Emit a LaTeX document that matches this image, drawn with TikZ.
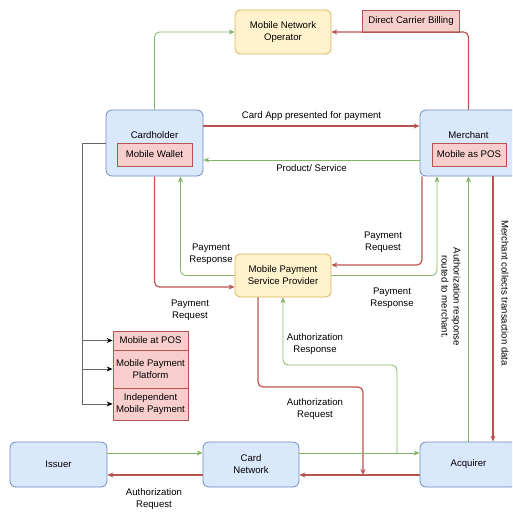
\documentclass[tikz,border=0pt]{standalone}
\usepackage{fontspec}
\setmainfont{Liberation Sans}
\usetikzlibrary{arrows.meta}
\definecolor{BoxBlue}{HTML}{DAE8FC}
\definecolor{LineBlue}{HTML}{6C8EBF}
\definecolor{BoxYellow}{HTML}{FFF2CC}
\definecolor{LineYellow}{HTML}{D6B656}
\definecolor{BoxPink}{HTML}{F8CECC}
\definecolor{LineRed}{HTML}{B85450}
\definecolor{LineGreen}{HTML}{82B366}
\tikzset{
    >={Stealth[length=6pt,width=5pt]},
    Box/.style={line width=0.8pt, align=center, inner sep=1pt},
    BlueBox/.style={Box, draw=LineBlue, fill=BoxBlue, rounded corners=6pt},
    YellowBox/.style={Box, draw=LineYellow, fill=BoxYellow, rounded corners=5pt},
    PinkBox/.style={Box, draw=LineRed, fill=BoxPink},
    ReqLine/.style={->, draw=LineRed, line width=1.2pt, rounded corners=5pt},
    ResLine/.style={->, draw=LineGreen, line width=0.8pt, rounded corners=5pt},
    BusLine/.style={-{Stealth[length=6pt,width=5pt,black]}, draw=black!60, line width=0.8pt},
}

\begin{document}
\begin{tikzpicture}[x=1pt, y=-1pt, font=\fontsize{9.6}{12}\selectfont]
    \path[use as bounding box, clip] (0,0) rectangle (512,516);
    % parties
    \node[YellowBox, minimum width=96pt, minimum height=44pt] (MNO) at (283,32) {Mobile Network\\Operator};
    \node[PinkBox, minimum width=97pt, minimum height=22pt] (DCB) at (411,21) {Direct Carrier Billing};
    \node[BlueBox, minimum width=97pt, minimum height=66pt] (Cardholder) at (154.5,143) {};
    \node (CardholderName) at (154.5,135) {Cardholder};
    \node[PinkBox, minimum width=75pt, minimum height=23pt] (Wallet) at (154.5,154.5) {Mobile Wallet};
    \node[BlueBox, minimum width=97pt, minimum height=66pt] (Merchant) at (468.5,143) {};
    \node (MerchantName) at (468.5,135) {Merchant};
    \node[PinkBox, minimum width=74pt, minimum height=23pt] (MobilePOS) at (469,154.5) {Mobile as POS};
    \node[YellowBox, minimum width=96pt, minimum height=43pt] (MPSP) at (283,275.5) {Mobile Payment\\Service Provider};
    \node[BlueBox, minimum width=97pt, minimum height=45pt] (Issuer) at (58.5,464.5) {Issuer};
    \node[BlueBox, minimum width=96pt, minimum height=45pt] (CardNet) at (251,464.5) {Card\\Network};
    \node[BlueBox, minimum width=97pt, minimum height=45pt] (Acquirer) at (468.5,464.5) {Acquirer};
    % wallet kinds
    \node[PinkBox, minimum width=75pt, minimum height=19pt] (AtPOS) at (150.5,340.5) {Mobile at POS};
    \node[PinkBox, minimum width=75pt, minimum height=38pt] (Platform) at (150.5,369) {Mobile Payment\\Platform};
    \node[PinkBox, minimum width=75pt, minimum height=32pt] (Independent) at (150.5,404) {Independent\\Mobile Payment};
    \coordinate (Trunk) at (82,0);
    \draw[BusLine] (Cardholder.west) -| (Trunk |- Independent.west) -- (Independent.west);
    \draw[BusLine] (Trunk |- AtPOS.west) -- (AtPOS.west);
    \draw[BusLine] (Trunk |- Platform.west) -- (Platform.west);
    \coordinate (AuthReqBend) at (363,387);
    \coordinate (AuthReqEnd) at (363,475);
    \coordinate (AuthResStart) at (397,453);
    \coordinate (AuthResBend) at (397,365);
    \begin{scope} % requests
        \draw[ReqLine] (Merchant.north) |- (MNO.east);
        \draw[ReqLine] ([yshift=17pt]Cardholder.east) -- ([yshift=17pt]Merchant.west)
            node[midway, above=2pt] {Card App presented for payment};
        \draw[ReqLine] (Cardholder.south) |- ([yshift=-11.5pt]MPSP.west);
        \draw[ReqLine] ([xshift=-46.5pt]Merchant.south) |- ([yshift=10.5pt]MPSP.east);
        \draw[ReqLine] ([xshift=24.5pt]Merchant.south) -- ([xshift=24.5pt]Acquirer.north);
        \draw[ReqLine] ([xshift=-25pt]MPSP.south) |- (AuthReqBend) -- (AuthReqEnd);
        \draw[ReqLine] ([yshift=-10.5pt]CardNet.west) -- ([yshift=-10.5pt]Issuer.east);
        \draw[ReqLine] ([yshift=-10.5pt]Acquirer.west) -- ([yshift=-10.5pt]CardNet.east);
    \end{scope}
    \begin{scope} % responses
        \draw[ResLine] (Cardholder.north) |- (MNO.west);
        \draw[ResLine] ([yshift=-17pt]Merchant.west) -- ([yshift=-17pt]Cardholder.east)
            node[midway, below=1pt] {Product/ Service};
        \draw[ResLine] (MPSP.west) -| ([xshift=26pt]Cardholder.south);
        \draw[ResLine] (MPSP.east) -| ([xshift=-31.5pt]Merchant.south);
        \draw[ResLine] (Acquirer.north) -- (Merchant.south);
        \draw[ResLine] (AuthResStart) -- (AuthResBend) -| (MPSP.south);
        \draw[ResLine] ([yshift=11.5pt]Issuer.east) -- ([yshift=11.5pt]CardNet.west);
        \draw[ResLine] ([yshift=11.5pt]CardNet.east) -- ([yshift=11.5pt]Acquirer.west);
    \end{scope}
    % labels
    \node[align=center] (PayReqLeft) at (190,310) {Payment\\Request};
    \node[align=center] (PayResLeft) at (211,254) {Payment\\Response};
    \node[align=center] (PayReqRight) at (383,242) {Payment\\Request};
    \node[align=center] (PayResRight) at (392,298) {Payment\\Response};
    \node[align=center] (AuthResLabel) at (315,344) {Authorization\\Response};
    \node[align=center] (AuthReqLabel) at (315,409) {Authorization\\Request};
    \node[align=center] (IssuerReqLabel) at (154,499) {Authorization\\Request};
    \node[align=center, rotate=-90] (RoutedLabel) at (451,297) {Authorization response\\routed to merchant.};
    \node[rotate=-90] (CollectLabel) at (505,293) {Merchant collects transaction data};
\end{tikzpicture}
\end{document}
